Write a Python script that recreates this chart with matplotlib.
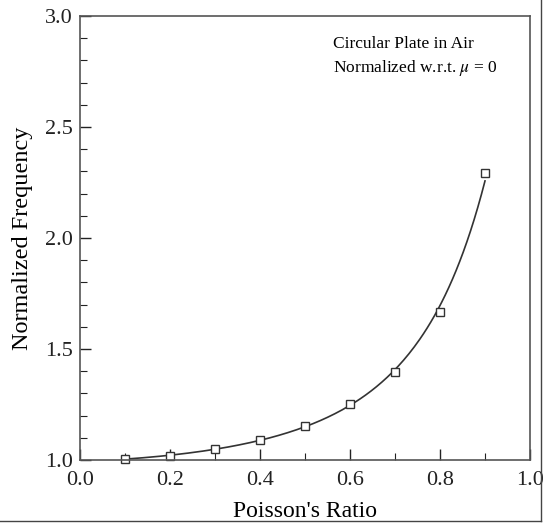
import matplotlib.pyplot as plt
import numpy as np
from matplotlib.ticker import MultipleLocator
from matplotlib.lines import Line2D

plt.rcParams['font.family'] = ['Liberation Serif', 'DejaVu Serif']
plt.rcParams['mathtext.fontset'] = 'stix'

# poisson ratio vs normalized frequency
poisson = [0.1, 0.2, 0.3, 0.4, 0.5, 0.6, 0.7, 0.8, 0.9]
freq_norm = [1.005, 1.018, 1.05, 1.09, 1.155, 1.252, 1.396, 1.667, 2.295]

fig = plt.figure(figsize=(5.48, 5.25), dpi=100)
ax = fig.add_axes([80 / 548, 1 - 460 / 525, 450 / 548, 444 / 525])

# smooth fitted curve through the measured points
coef = np.polyfit(poisson, np.log(np.array(freq_norm) - 0.98), 3)
xs = np.linspace(poisson[0], poisson[-1], 200)
ax.plot(xs, np.exp(np.polyval(coef, xs)) + 0.98, color='#333333', linewidth=1.2)
ax.plot(poisson, freq_norm, 's', markersize=6, markerfacecolor='white',
        markeredgecolor='#333333', markeredgewidth=1.0, clip_on=False)

ax.set_xlim(0, 1)
ax.set_ylim(1, 3)
ax.xaxis.set_major_locator(MultipleLocator(0.2))
ax.xaxis.set_minor_locator(MultipleLocator(0.1))
ax.yaxis.set_major_locator(MultipleLocator(0.5))
ax.yaxis.set_minor_locator(MultipleLocator(0.1))
ax.tick_params(which='both', direction='in', top=False, right=False, labelsize=16, colors='#222222')
ax.tick_params(which='major', length=8, width=1)
ax.tick_params(which='minor', length=5, width=0.8)
ax.tick_params(axis='x', pad=8)
ax.tick_params(axis='y', pad=5)
for s in ax.spines.values():
    s.set_color('#555555')
    s.set_linewidth(1.2)

ax.set_xlabel("Poisson's Ratio", fontsize=17, labelpad=8)
ax.set_ylabel('Normalized Frequency', fontsize=17.5, labelpad=9)

ax.text(0.562, 0.955, 'Circular Plate in Air\nNormalized w.r.t. $\\mu$ = 0',
        transform=ax.transAxes, fontsize=12.5, va='top', ha='left', linespacing=1.45)

# outer frame lines on right and bottom
fig.add_artist(Line2D([541 / 548, 541 / 548], [1 - 521 / 525, 1], transform=fig.transFigure,
                      color='#444444', linewidth=1))
fig.add_artist(Line2D([0, 541 / 548], [1 - 521 / 525, 1 - 521 / 525], transform=fig.transFigure,
                      color='#444444', linewidth=1))

plt.savefig('out.png', dpi=100)
